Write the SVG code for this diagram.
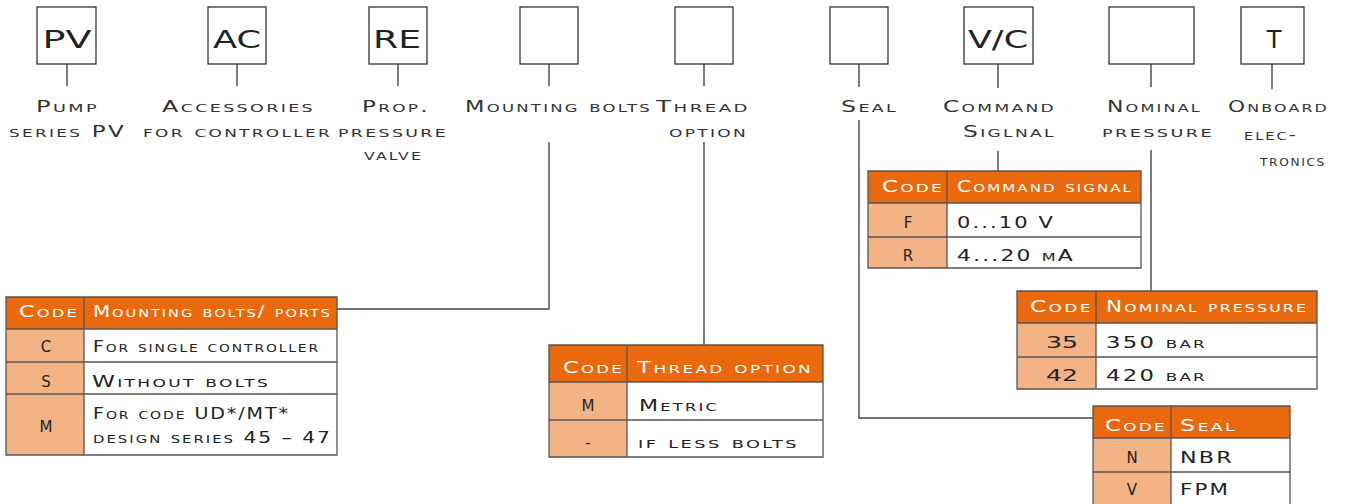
<svg xmlns="http://www.w3.org/2000/svg" width="1349" height="504" viewBox="0 0 1349 504">
<style>
.box{fill:#fff;stroke:#333;stroke-width:1.3}
.bt{font-family:"DejaVu Sans","Liberation Sans",sans-serif;font-size:24px;fill:#222;text-anchor:middle}
.lbl{font-family:"DejaVu Sans","Liberation Sans",sans-serif;font-size:15px;font-variant:small-caps;fill:#333;letter-spacing:1.5px}
.ln{fill:none;stroke:#444;stroke-width:1.4}
.hd{fill:#E9690C}
.cc{fill:#F3B385}
.wc{fill:#fff}
.grid{fill:none;stroke:#555;stroke-width:1.3}
.th{font-family:"DejaVu Sans","Liberation Sans",sans-serif;font-size:15px;font-variant:small-caps;fill:#fff;letter-spacing:1.5px}
.td{font-family:"DejaVu Sans","Liberation Sans",sans-serif;font-size:15px;font-variant:small-caps;fill:#222;letter-spacing:1.5px}
.tc{font-family:"DejaVu Sans","Liberation Sans",sans-serif;font-size:15px;font-variant:small-caps;fill:#222;text-anchor:middle}
</style>

<g id="connectors">
<path class="ln" d="M67 64V86M237 64V86M398 64V86M549 64V86M704 64V86M859 64V87M998 64V88M1151 64V87M1272 64V89"/>
<path class="ln" d="M549 142V309H337"/>
<path class="ln" d="M704 142V345"/>
<path class="ln" d="M859 120V418H1093"/>
<path class="ln" d="M998 151V171"/>
<path class="ln" d="M1151 150V291"/>
</g>

<g id="node-pv">
<rect class="box" x="37" y="7" width="59" height="57"/>
<text class="bt" x="67" y="48" textLength="49" lengthAdjust="spacingAndGlyphs">PV</text>
<text class="lbl" x="36" y="112" textLength="63" lengthAdjust="spacingAndGlyphs">Pump</text>
<text class="lbl" x="9" y="137" textLength="117" lengthAdjust="spacingAndGlyphs">series PV</text>
</g>

<g id="node-ac">
<rect class="box" x="208" y="7" width="58" height="57"/>
<text class="bt" x="237" y="48" textLength="48" lengthAdjust="spacingAndGlyphs">AC</text>
<text class="lbl" x="162" y="112" textLength="153" lengthAdjust="spacingAndGlyphs">Accessories</text>
<text class="lbl" x="143" y="137" textLength="189" lengthAdjust="spacingAndGlyphs">for controller</text>
</g>

<g id="node-re">
<rect class="box" x="369" y="7" width="58" height="57"/>
<text class="bt" x="397" y="48" textLength="48" lengthAdjust="spacingAndGlyphs">RE</text>
<text class="lbl" x="362" y="112" textLength="68" lengthAdjust="spacingAndGlyphs">Prop.</text>
<text class="lbl" x="338" y="137" textLength="110" lengthAdjust="spacingAndGlyphs">pressure</text>
<text class="lbl" x="364" y="160" textLength="59" lengthAdjust="spacingAndGlyphs">valve</text>
</g>

<g id="node-mounting">
<rect class="box" x="520" y="7" width="58" height="57"/>
<text class="lbl" x="465" y="112" textLength="187" lengthAdjust="spacingAndGlyphs">Mounting bolts</text>
</g>

<g id="node-thread">
<rect class="box" x="675" y="7" width="58" height="57"/>
<text class="lbl" x="656" y="112" textLength="94" lengthAdjust="spacingAndGlyphs">Thread</text>
<text class="lbl" x="669" y="137" textLength="79" lengthAdjust="spacingAndGlyphs">option</text>
</g>

<g id="node-seal">
<rect class="box" x="830" y="7" width="58" height="57"/>
<text class="lbl" x="841" y="112" textLength="57" lengthAdjust="spacingAndGlyphs">Seal</text>
</g>

<g id="node-vc">
<rect class="box" x="964" y="7" width="69" height="57"/>
<text class="bt" x="998" y="48" textLength="60" lengthAdjust="spacingAndGlyphs">V/C</text>
<text class="lbl" x="943" y="112" textLength="113" lengthAdjust="spacingAndGlyphs">Command</text>
<text class="lbl" x="963" y="137" textLength="93" lengthAdjust="spacingAndGlyphs">Siglnal</text>
</g>

<g id="node-nominal">
<rect class="box" x="1109" y="7" width="85" height="57"/>
<text class="lbl" x="1107" y="112" textLength="95" lengthAdjust="spacingAndGlyphs">Nominal</text>
<text class="lbl" x="1102" y="137" textLength="112" lengthAdjust="spacingAndGlyphs">pressure</text>
</g>

<g id="node-t">
<rect class="box" x="1241" y="7" width="63" height="57"/>
<text class="bt" x="1274" y="48">T</text>
<text class="lbl" x="1228" y="112" textLength="101" lengthAdjust="spacingAndGlyphs">Onboard</text>
<text class="lbl" x="1244" y="140" textLength="54" lengthAdjust="spacingAndGlyphs">elec-</text>
<text class="lbl" x="1260" y="166" textLength="66" lengthAdjust="spacingAndGlyphs">tronics</text>
</g>

<g id="table-mounting">
<rect class="hd" x="6" y="297" width="331" height="32"/>
<rect class="cc" x="6" y="329" width="78" height="126"/>
<rect class="wc" x="84" y="329" width="253" height="126"/>
<path class="grid" d="M6 297H337V455H6ZM84 297V455M6 329H337M6 362H337M6 394H337"/>
<text class="th" x="19" y="317" textLength="60" lengthAdjust="spacingAndGlyphs">Code</text>
<text class="th" x="93" y="317" textLength="239" lengthAdjust="spacingAndGlyphs">Mounting bolts/ ports</text>
<text class="tc" x="46" y="352">C</text>
<text class="td" x="93" y="352" textLength="227" lengthAdjust="spacingAndGlyphs">For single controller</text>
<text class="tc" x="46" y="387">S</text>
<text class="td" x="92" y="387" textLength="178" lengthAdjust="spacingAndGlyphs">Without bolts</text>
<text class="tc" x="46" y="432">M</text>
<text class="td" x="93" y="419" textLength="197" lengthAdjust="spacingAndGlyphs">For code UD*/MT*</text>
<text class="td" x="93" y="443" textLength="239" lengthAdjust="spacingAndGlyphs">design series 45 – 47</text>
</g>

<g id="table-thread">
<rect class="hd" x="549" y="345" width="274" height="37"/>
<rect class="cc" x="549" y="382" width="78" height="75"/>
<rect class="wc" x="627" y="382" width="196" height="75"/>
<path class="grid" d="M549 345H823V457H549ZM627 345V457M549 382H823M549 420H823"/>
<text class="th" x="563" y="373" textLength="61" lengthAdjust="spacingAndGlyphs">Code</text>
<text class="th" x="637" y="373" textLength="176" lengthAdjust="spacingAndGlyphs">Thread option</text>
<text class="tc" x="588" y="411">M</text>
<text class="td" x="639" y="411" textLength="80" lengthAdjust="spacingAndGlyphs">Metric</text>
<text class="tc" x="588" y="448">-</text>
<text class="td" x="638" y="448" textLength="161" lengthAdjust="spacingAndGlyphs">if less bolts</text>
</g>

<g id="table-command">
<rect class="hd" x="868" y="171" width="273" height="32"/>
<rect class="cc" x="868" y="203" width="79" height="65"/>
<rect class="wc" x="947" y="203" width="194" height="65"/>
<path class="grid" d="M868 171H1141V268H868ZM947 171V268M868 203H1141M868 237H1141"/>
<text class="th" x="882" y="192" textLength="62" lengthAdjust="spacingAndGlyphs">Code</text>
<text class="th" x="957" y="192" textLength="176" lengthAdjust="spacingAndGlyphs">Command signal</text>
<text class="tc" x="908" y="228">F</text>
<text class="td" x="957" y="228" textLength="98" lengthAdjust="spacingAndGlyphs">0...10 V</text>
<text class="tc" x="908" y="261">R</text>
<text class="td" x="957" y="261" textLength="118" lengthAdjust="spacingAndGlyphs">4...20 mA</text>
</g>

<g id="table-nominal">
<rect class="hd" x="1017" y="291" width="300" height="32"/>
<rect class="cc" x="1017" y="323" width="79" height="66"/>
<rect class="wc" x="1096" y="323" width="221" height="66"/>
<path class="grid" d="M1017 291H1317V389H1017ZM1096 291V389M1017 323H1317M1017 357H1317"/>
<text class="th" x="1030" y="312" textLength="63" lengthAdjust="spacingAndGlyphs">Code</text>
<text class="th" x="1106" y="312" textLength="202" lengthAdjust="spacingAndGlyphs">Nominal pressure</text>
<text class="tc" x="1062" y="348" textLength="32" lengthAdjust="spacingAndGlyphs">35</text>
<text class="td" x="1106" y="348" textLength="101" lengthAdjust="spacingAndGlyphs">350 bar</text>
<text class="tc" x="1062" y="381" textLength="32" lengthAdjust="spacingAndGlyphs">42</text>
<text class="td" x="1106" y="381" textLength="101" lengthAdjust="spacingAndGlyphs">420 bar</text>
</g>

<g id="table-seal">
<rect class="hd" x="1093" y="406" width="197" height="32"/>
<rect class="cc" x="1093" y="438" width="78" height="72"/>
<rect class="wc" x="1171" y="438" width="119" height="72"/>
<path class="grid" d="M1093 510V406H1290V510M1171 406V510M1093 438H1290M1093 472H1290"/>
<text class="th" x="1105" y="431" textLength="62" lengthAdjust="spacingAndGlyphs">Code</text>
<text class="th" x="1180" y="431" textLength="57" lengthAdjust="spacingAndGlyphs">Seal</text>
<text class="tc" x="1132" y="463">N</text>
<text class="td" x="1180" y="463" textLength="54" lengthAdjust="spacingAndGlyphs">NBR</text>
<text class="tc" x="1132" y="495">V</text>
<text class="td" x="1180" y="495" textLength="50" lengthAdjust="spacingAndGlyphs">FPM</text>
</g>
</svg>
